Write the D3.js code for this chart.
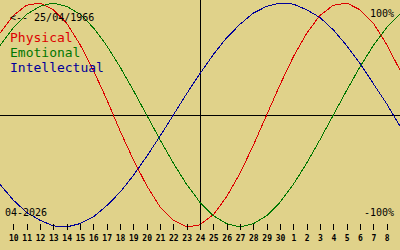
<!DOCTYPE html>
<html lang="en">
<head>
    <meta charset="UTF-8">
    <title>Biorhythm</title>
    <script src="https://d3js.org/d3.v7.min.js"></script>
    <style>
        body {
            margin: 0;
            background: #e0d28a;
        }
        svg {
            display: block;
            font-family: "DejaVu Sans Mono", monospace;
        }
    </style>
</head>
<body>
<main></main>
<script>
    // one label per day, 9 April -> 9 May
    var dayLabels = ['9', '10', '11', '12', '13', '14', '15', '16', '17', '18', '19', '20', '21', '22', '23',
        '24', '25', '26', '27', '28', '29', '30', '1', '2', '3', '4', '5', '6', '7', '8', '9'];

    // values in percent
    var physical = [73, 89, 98, 100, 94, 82, 63, 40, 14, -14, -40, -63, -82, -94, -100, -98,
        -89, -73, -52, -27, 0, 27, 52, 73, 89, 98, 100, 94, 82, 63, 40];
    var emotional = [62, 78, 90, 97, 100, 97, 90, 78, 62, 43, 22, 0, -22, -43, -62, -78,
        -90, -97, -100, -97, -90, -78, -62, -43, -22, 0, 22, 43, 62, 78, 90];
    var intellectual = [-62, -76, -87, -94, -99, -100, -97, -91, -81, -69, -54, -37, -19, 0, 19, 37,
        54, 69, 81, 91, 97, 100, 99, 94, 87, 76, 62, 46, 28, 10, -10];

    var series = [
        {name: 'Physical', values: physical, color: '#dd0000'},
        {name: 'Emotional', values: emotional, color: '#007700'},
        {name: 'Intellectual', values: intellectual, color: '#000099'}
    ];

    var birthLabel = '<-- 25/04/1966';
    var monthLabel = '04-2026';
    var todayIndex = 15;

    var w = 400, h = 250;

    var x = d3.scaleLinear().domain([0, dayLabels.length - 1]).range([0, w]);
    var y = d3.scaleLinear().domain([-100, 100]).range([227, 3]);

    var svg = d3.select('main')
        .append('svg')
        .attr('width', w)
        .attr('height', h)
        .style('background', '#e0d28a');

    // zero line and today line
    svg.append('line')
        .attr('x1', 0).attr('x2', w)
        .attr('y1', y(0) + 0.5).attr('y2', y(0) + 0.5)
        .style('stroke', '#000')
        .style('shape-rendering', 'crispEdges');
    svg.append('line')
        .attr('x1', x(todayIndex) + 0.5).attr('x2', x(todayIndex) + 0.5)
        .attr('y1', 0).attr('y2', 230)
        .style('stroke', '#000')
        .style('shape-rendering', 'crispEdges');

    var line = d3.line()
        .x(function(d, i){ return x(i); })
        .y(function(d){ return y(d); });

    svg.append('g')
        .selectAll('path')
        .data(series)
        .enter()
        .append('path')
        .attr('d', function(d){ return line(d.values); })
        .style('fill', 'none')
        .style('stroke', function(d){ return d.color; })
        .style('stroke-width', 1)
        .style('shape-rendering', 'crispEdges');

    // day axis
    var tickIdx = d3.range(1, dayLabels.length - 1);
    var axis = svg.append('g')
        .attr('transform', 'translate(0,224)')
        .call(d3.axisBottom(x)
            .tickValues(tickIdx)
            .tickSize(6)
            .tickPadding(5)
            .tickFormat(function(i){ return dayLabels[i]; }));
    axis.select('.domain').remove();
    axis.selectAll('line').style('shape-rendering', 'crispEdges');
    axis.selectAll('text')
        .style('font-family', '"DejaVu Sans Mono", monospace')
        .style('font-size', '8px')
        .style('font-weight', 'bold');

    // legend
    var legend = svg.append('g');
    legend.selectAll('text')
        .data(series)
        .enter()
        .append('text')
        .attr('x', 10)
        .attr('y', function(d, i){ return 42 + i * 15; })
        .style('font-size', '13px')
        .style('fill', function(d){ return d.color; })
        .text(function(d){ return d.name; });

    svg.append('text')
        .attr('x', 10).attr('y', 21)
        .style('font-size', '10px')
        .text(birthLabel);

    svg.append('text')
        .attr('x', 5).attr('y', 216)
        .style('font-size', '10px')
        .text(monthLabel);

    svg.append('text')
        .attr('x', 394).attr('y', 17)
        .attr('text-anchor', 'end')
        .style('font-size', '10px')
        .text('100%');

    svg.append('text')
        .attr('x', 394).attr('y', 216)
        .attr('text-anchor', 'end')
        .style('font-size', '10px')
        .text('-100%');
</script>
</body>
</html>
